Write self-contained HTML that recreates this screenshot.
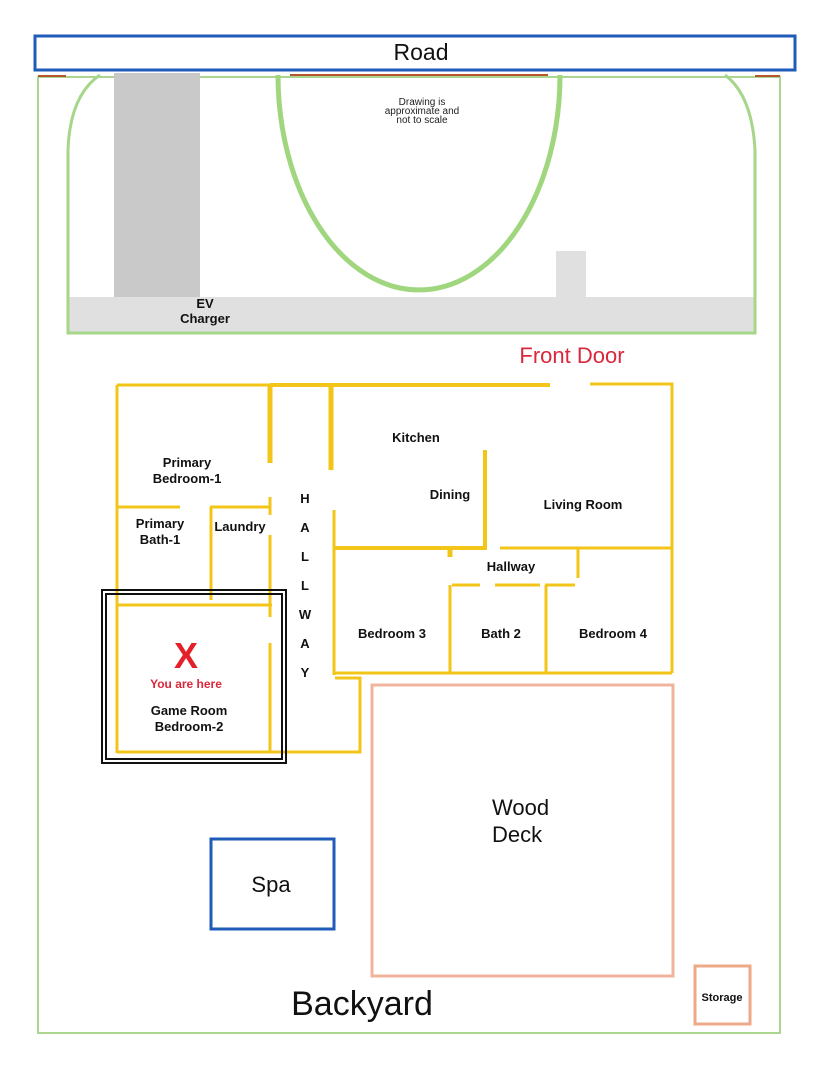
<!DOCTYPE html>
<html><head><meta charset="utf-8"><style>
html,body{margin:0;padding:0;background:#fff}
svg{display:block}
text{font-family:"Liberation Sans",Arial,sans-serif}
.b{font-weight:bold;font-size:13px;fill:#111}
</style></head><body>
<svg width="834" height="1080" viewBox="0 0 834 1080" xmlns="http://www.w3.org/2000/svg">
<rect x="0" y="0" width="834" height="1080" fill="#fff"/>
<!-- lot -->
<rect x="38" y="77" width="742" height="956" fill="none" stroke="#acd590" stroke-width="2"/>
<!-- gray drive -->
<rect x="114" y="73" width="86" height="225" fill="#c9c9c9"/>
<rect x="67" y="297" width="688" height="36" fill="#e1e0e0"/>
<rect x="556" y="251" width="30" height="47" fill="#e1e0e0"/>
<!-- driveway green -->
<path d="M100,75 Q70,95 68,150 L68,333 L755,333 L755,150 Q752,95 725,75" fill="none" stroke="#a6d68a" stroke-width="3"/>
<path d="M278,75 A141,215 0 0 0 560,75" fill="none" stroke="#a0d67e" stroke-width="5"/>
<line x1="290" y1="75" x2="548" y2="75" stroke="#b5562c" stroke-width="2"/>
<line x1="38" y1="76" x2="66" y2="76" stroke="#b5562c" stroke-width="2"/>
<line x1="755" y1="76" x2="780" y2="76" stroke="#b5562c" stroke-width="2"/>
<!-- road -->
<rect x="35" y="36" width="760" height="34" fill="#fff" stroke="#1f5bb8" stroke-width="3"/>
<text x="421" y="60" font-size="23" text-anchor="middle" fill="#111">Road</text>
<text x="422" y="105" font-size="10" text-anchor="middle" fill="#222">Drawing is</text>
<text x="422" y="114" font-size="10" text-anchor="middle" fill="#222">approximate and</text>
<text x="422" y="123" font-size="10" text-anchor="middle" fill="#222">not to scale</text>
<text x="205" y="308" font-size="12" text-anchor="middle" class="b">EV</text>
<text x="205" y="323" font-size="12" text-anchor="middle" class="b">Charger</text>
<text x="572" y="363" font-size="22" text-anchor="middle" fill="#d9283c">Front Door</text>
<!-- house -->
<g stroke="#f2c518" stroke-width="3" fill="none">
<path d="M117,385 H270"/>
<path d="M270,385 H550" stroke-width="4"/>
<path d="M590,384 H672 V673"/>
<path d="M117,385 V753"/>
<path d="M270,385 V463" stroke-width="5"/>
<path d="M270,497 V515"/>
<path d="M270,535 V617"/>
<path d="M270,643 V753"/>
<path d="M331,385 V470" stroke-width="5"/>
<path d="M334,510 V675"/>
<path d="M117,507 H180 M210,507 H270"/>
<path d="M211,507 V600"/>
<path d="M117,605 H272"/>
<path d="M117,752 H360 V678 H335"/>
<path d="M335,548 H485 V450" stroke-width="4"/>
<path d="M500,548 H672"/>
<path d="M450,548 V557" stroke-width="5"/>
<path d="M578,548 V578"/>
<path d="M452,585 H480 M495,585 H540 M545,585 H575"/>
<path d="M450,585 V673 M546,585 V673"/>
<path d="M335,673 H672"/>
</g>
<rect x="102" y="590" width="184" height="173" fill="none" stroke="#111" stroke-width="2"/>
<rect x="106" y="594" width="176" height="165" fill="none" stroke="#111" stroke-width="2"/>
<text x="187" y="467" text-anchor="middle" class="b">Primary</text>
<text x="187" y="483" text-anchor="middle" class="b">Bedroom-1</text>
<text x="160" y="528" text-anchor="middle" class="b">Primary</text>
<text x="160" y="544" text-anchor="middle" class="b">Bath-1</text>
<text x="240" y="531" text-anchor="middle" class="b" font-size="12">Laundry</text>
<text x="416" y="442" text-anchor="middle" class="b">Kitchen</text>
<text x="450" y="499" text-anchor="middle" class="b">Dining</text>
<text x="583" y="509" text-anchor="middle" class="b">Living Room</text>
<text x="511" y="571" text-anchor="middle" class="b">Hallway</text>
<text x="392" y="638" text-anchor="middle" class="b">Bedroom 3</text>
<text x="501" y="638" text-anchor="middle" class="b">Bath 2</text>
<text x="613" y="638" text-anchor="middle" class="b">Bedroom 4</text>
<g class="b" text-anchor="middle">
<text x="305" y="503">H</text><text x="305" y="532">A</text><text x="305" y="561">L</text>
<text x="305" y="590">L</text><text x="305" y="619">W</text><text x="305" y="648">A</text><text x="305" y="677">Y</text>
</g>
<text x="186" y="668" text-anchor="middle" font-size="36" font-weight="bold" fill="#e3202a">X</text>
<text x="186" y="688" text-anchor="middle" font-size="12" font-weight="bold" fill="#d9283c">You are here</text>
<text x="189" y="715" text-anchor="middle" class="b">Game Room</text>
<text x="189" y="731" text-anchor="middle" class="b">Bedroom-2</text>
<!-- deck, spa, storage -->
<rect x="372" y="685" width="301" height="291" fill="none" stroke="#f0b49c" stroke-width="3"/>
<text x="492" y="815" font-size="22" fill="#111">Wood</text>
<text x="492" y="842" font-size="22" fill="#111">Deck</text>
<rect x="211" y="839" width="123" height="90" fill="none" stroke="#1f5bb8" stroke-width="3"/>
<text x="271" y="892" font-size="22" text-anchor="middle" fill="#111">Spa</text>
<rect x="695" y="966" width="55" height="58" fill="none" stroke="#eea989" stroke-width="3"/>
<text x="722" y="1001" font-size="11" font-weight="bold" text-anchor="middle" fill="#111">Storage</text>
<text x="362" y="1015" font-size="34" text-anchor="middle" fill="#111">Backyard</text>
</svg>
</body></html>
